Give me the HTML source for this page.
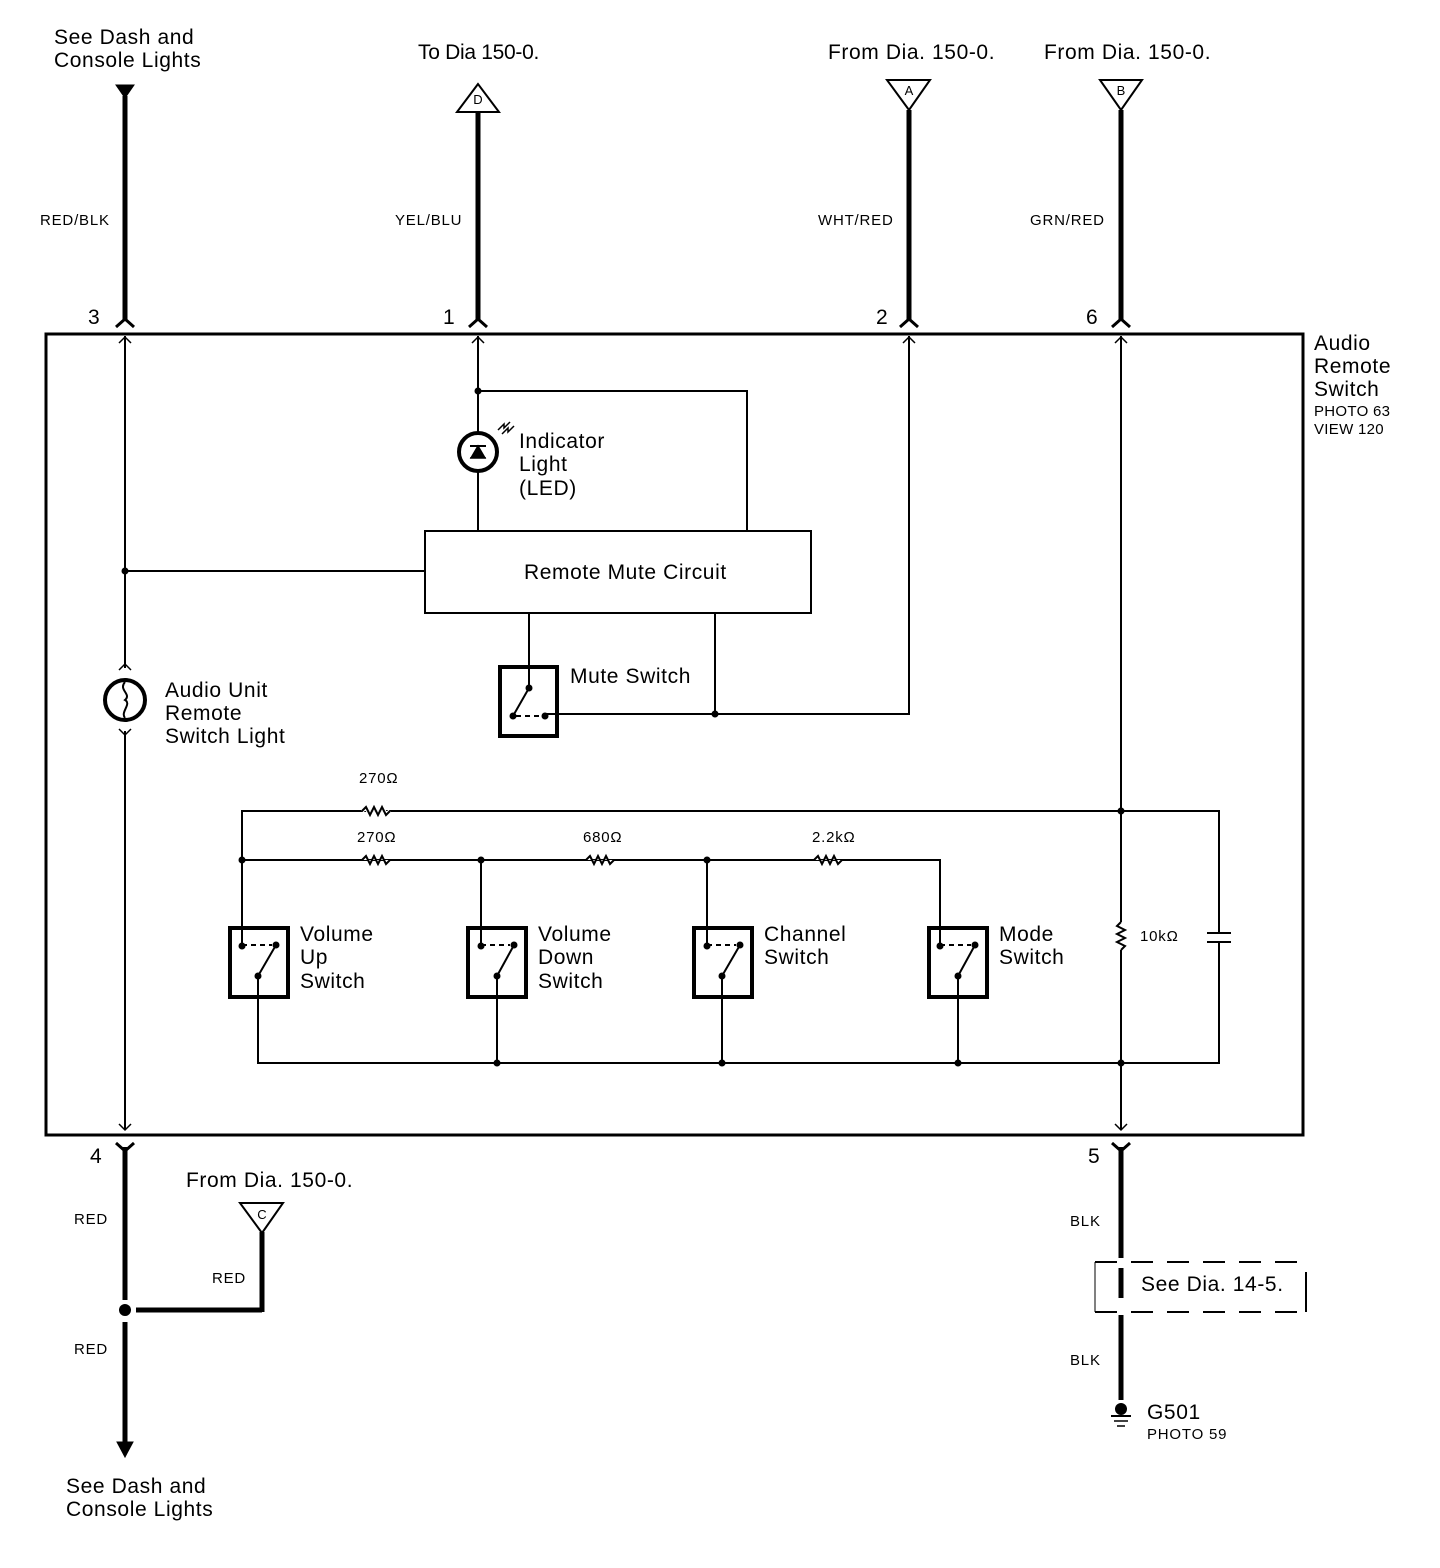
<!DOCTYPE html>
<html><head><meta charset="utf-8"><style>
html,body{margin:0;padding:0;background:#fff}
svg{display:block}
text{font-family:"Liberation Sans",sans-serif;fill:#000}
</style></head><body>
<svg width="1440" height="1568" viewBox="0 0 1440 1568" xmlns="http://www.w3.org/2000/svg">
<g stroke="#000" fill="none">
<rect x="46" y="334" width="1257" height="801" stroke-width="3"/>
<g stroke-width="5">
<line x1="125" y1="96" x2="125" y2="320"/>
<line x1="478" y1="112" x2="478" y2="320"/>
<line x1="909" y1="110" x2="909" y2="320"/>
<line x1="1121" y1="110" x2="1121" y2="320"/>
<line x1="125" y1="1147" x2="125" y2="1300"/>
<line x1="125" y1="1322" x2="125" y2="1445"/>
<line x1="136" y1="1310" x2="262" y2="1310"/>
<line x1="262" y1="1232" x2="262" y2="1312"/>
<line x1="1121" y1="1147" x2="1121" y2="1258"/>
<line x1="1121" y1="1268" x2="1121" y2="1298"/>
<line x1="1121" y1="1315" x2="1121" y2="1400"/>
</g>
<g stroke-width="3">
<path d="M116 327 L125 319 L134 327"/><path d="M469 327 L478 319 L487 327"/>
<path d="M900 327 L909 319 L918 327"/><path d="M1112 327 L1121 319 L1130 327"/>
<path d="M116 1143 L125 1151 L134 1143"/><path d="M1112 1143 L1121 1151 L1130 1143"/>
</g>
<g stroke-width="1.5">
<path d="M119 343 L125 337 L131 343"/><path d="M472 343 L478 337 L484 343"/>
<path d="M903 343 L909 337 L915 343"/><path d="M1115 343 L1121 337 L1127 343"/>
<path d="M119 1124 L125 1130 L131 1124"/><path d="M1115 1124 L1121 1130 L1127 1124"/>
</g>
<g stroke-width="2" fill="#fff">
<path d="M478 84 L457 112 L499 112 Z"/>
<path d="M887 80 L930 80 L909 110 Z"/>
<path d="M1100 80 L1142 80 L1121 110 Z"/>
<path d="M240 1203 L283 1203 L262 1233 Z"/>
</g>
<path d="M116 85 L134 85 L125 98 Z" fill="#000" stroke-width="1"/>
<path d="M117 1442 L133 1442 L125 1457 Z" fill="#000" stroke-width="1"/>
<g stroke-width="2">
<line x1="125" y1="336" x2="125" y2="668"/>
<line x1="125" y1="731" x2="125" y2="1130"/>
<line x1="125" y1="571" x2="425" y2="571"/>
<line x1="478" y1="336" x2="478" y2="432"/>
<line x1="478" y1="472" x2="478" y2="531"/>
<polyline points="478,391 747,391 747,531"/>
<rect x="425" y="531" width="386" height="82"/>
<line x1="529" y1="613" x2="529" y2="688"/>
<line x1="715" y1="613" x2="715" y2="714"/>
<polyline points="545,714 909,714 909,336"/>
<line x1="1121" y1="336" x2="1121" y2="922"/>
<line x1="1121" y1="950" x2="1121" y2="1130"/>
<polyline points="242,946 242,811 1219,811 1219,933"/>
<polyline points="1219,942 1219,1063 258,1063 258,976"/>
<polyline points="242,860 940,860 940,944"/>
<line x1="481" y1="860" x2="481" y2="946"/>
<line x1="707" y1="860" x2="707" y2="946"/>
<line x1="497" y1="976" x2="497" y2="1063"/>
<line x1="722" y1="976" x2="722" y2="1063"/>
<line x1="958" y1="976" x2="958" y2="1063"/>
</g>
<line x1="1207" y1="933" x2="1231" y2="933" stroke-width="2"/>
<line x1="1207" y1="942" x2="1231" y2="942" stroke-width="2"/>
<g stroke-width="2" fill="#fff">
<path d="M362 811 L366 807 L370 815 L374 807 L378 815 L382 807 L386 815 L390 811" stroke="#fff" stroke-width="4"/>
<path d="M362 811 L366 807 L370 815 L374 807 L378 815 L382 807 L386 815 L390 811"/>
<path d="M362 860 L366 856 L370 864 L374 856 L378 864 L382 856 L386 864 L390 860"/>
<path d="M586 860 L590 856 L594 864 L598 856 L602 864 L606 856 L610 864 L614 860"/>
<path d="M814 860 L818 856 L822 864 L826 856 L830 864 L834 856 L838 864 L842 860"/>
<path d="M1121 922 L1117 926 L1125 930 L1117 934 L1125 938 L1117 942 L1125 946 L1121 950"/>
</g>
<g stroke-width="4">
<rect x="500" y="667" width="57" height="69"/>
<rect x="230" y="928" width="58" height="69"/>
<rect x="468" y="928" width="58" height="69"/>
<rect x="694" y="928" width="58" height="69"/>
<rect x="929" y="928" width="58" height="69"/>
</g>
<g stroke-width="2">
<line x1="529" y1="688" x2="513" y2="716"/><path d="M516 716 L540 716" stroke-dasharray="5,4"/>
<line x1="276" y1="945" x2="258" y2="976"/><path d="M242 945 L272 945" stroke-dasharray="5,4"/>
<line x1="514" y1="945" x2="497" y2="976"/><path d="M481 945 L510 945" stroke-dasharray="5,4"/>
<line x1="740" y1="945" x2="722" y2="976"/><path d="M707 945 L736 945" stroke-dasharray="5,4"/>
<line x1="975" y1="945" x2="958" y2="976"/><path d="M940 945 L971 945" stroke-dasharray="5,4"/>
</g>
<circle cx="478" cy="452" r="19" stroke-width="4"/>
<path d="M470 458 L486 458 M478 446 L471 458 L485 458 Z" fill="#000" stroke-width="1.5"/>
<line x1="470" y1="446" x2="486" y2="446" stroke-width="2"/>
<path d="M498 430 L504 424 L504 428 L510 422 M502 434 L508 428 L508 432 L514 426" stroke-width="1.5"/>
<circle cx="125" cy="700" r="20" stroke-width="4"/>
<path d="M119 670 L125 664 L131 670 M119 729 L125 735 L131 729" stroke-width="1.5"/>
<path d="M125 682 C118 690 132 694 125 700 C132 704 120 712 125 718" stroke-width="2"/>
<path d="M1095 1262 L1306 1262" stroke-width="2" stroke-dasharray="22,14"/>
<path d="M1095 1312 L1306 1312" stroke-width="2" stroke-dasharray="22,14"/>
<line x1="1095" y1="1262" x2="1095" y2="1312" stroke-width="1"/>
<line x1="1306" y1="1272" x2="1306" y2="1312" stroke-width="2"/>
<line x1="1111" y1="1416" x2="1131" y2="1416" stroke-width="2"/>
<line x1="1114" y1="1421" x2="1128" y2="1421" stroke-width="1.5"/>
<line x1="1117" y1="1426" x2="1125" y2="1426" stroke-width="1.5"/>
</g>
<g fill="#000">
<circle cx="125" cy="571" r="3.5"/><circle cx="478" cy="391" r="3.5"/><circle cx="715" cy="714" r="3.5"/>
<circle cx="529" cy="688" r="3.5"/><circle cx="513" cy="716" r="3.5"/><circle cx="545" cy="716" r="3.5"/>
<circle cx="1121" cy="811" r="3.5"/><circle cx="1121" cy="1063" r="3.5"/>
<circle cx="242" cy="860" r="3.5"/><circle cx="481" cy="860" r="3.5"/><circle cx="707" cy="860" r="3.5"/>
<circle cx="497" cy="1063" r="3.5"/><circle cx="722" cy="1063" r="3.5"/><circle cx="958" cy="1063" r="3.5"/>
<circle cx="242" cy="946" r="3.5"/><circle cx="276" cy="945" r="3.5"/><circle cx="258" cy="976" r="3.5"/>
<circle cx="481" cy="946" r="3.5"/><circle cx="514" cy="945" r="3.5"/><circle cx="497" cy="976" r="3.5"/>
<circle cx="707" cy="946" r="3.5"/><circle cx="740" cy="945" r="3.5"/><circle cx="722" cy="976" r="3.5"/>
<circle cx="940" cy="946" r="3.5"/><circle cx="975" cy="945" r="3.5"/><circle cx="958" cy="976" r="3.5"/>
<circle cx="125" cy="1310" r="6"/>
<circle cx="1121" cy="1409" r="6"/>
</g>
<g font-size="21" letter-spacing="0.6">
<text x="54" y="44">See Dash and</text><text x="54" y="67">Console Lights</text>
<text x="418" y="59" letter-spacing="-0.3">To Dia 150-0.</text>
<text x="828" y="59">From Dia. 150-0.</text>
<text x="1044" y="59">From Dia. 150-0.</text>
<text x="88" y="324">3</text><text x="443" y="324">1</text><text x="876" y="324">2</text><text x="1086" y="324">6</text>
<text x="90" y="1163">4</text><text x="1088" y="1163">5</text>
<text x="1314" y="350">Audio</text><text x="1314" y="373">Remote</text><text x="1314" y="396">Switch</text>
<text x="519" y="448">Indicator</text><text x="519" y="471">Light</text><text x="519" y="495">(LED)</text>
<text x="524" y="579">Remote Mute Circuit</text>
<text x="570" y="683">Mute Switch</text>
<text x="165" y="697">Audio Unit</text><text x="165" y="720">Remote</text><text x="165" y="743">Switch Light</text>
<text x="300" y="941">Volume</text><text x="300" y="964">Up</text><text x="300" y="988">Switch</text>
<text x="538" y="941">Volume</text><text x="538" y="964">Down</text><text x="538" y="988">Switch</text>
<text x="764" y="941">Channel</text><text x="764" y="964">Switch</text>
<text x="999" y="941">Mode</text><text x="999" y="964">Switch</text>
<text x="186" y="1187">From Dia. 150-0.</text>
<text x="1141" y="1291">See Dia. 14-5.</text>
<text x="1147" y="1419">G501</text>
<text x="66" y="1493">See Dash and</text><text x="66" y="1516">Console Lights</text>
</g>
<g font-size="15" letter-spacing="0.8">
<text x="40" y="225">RED/BLK</text><text x="395" y="225">YEL/BLU</text>
<text x="818" y="225">WHT/RED</text><text x="1030" y="225">GRN/RED</text>
<text x="1314" y="416" letter-spacing="0.3">PHOTO 63</text><text x="1314" y="434" letter-spacing="0.3">VIEW 120</text>
<text x="359" y="783">270Ω</text><text x="357" y="842">270Ω</text><text x="583" y="842">680Ω</text><text x="812" y="842">2.2kΩ</text>
<text x="1140" y="941">10kΩ</text>
<text x="74" y="1224">RED</text><text x="212" y="1283">RED</text><text x="74" y="1354">RED</text>
<text x="1070" y="1226">BLK</text><text x="1070" y="1365">BLK</text>
<text x="1147" y="1439">PHOTO 59</text>
</g>
<g font-size="13" text-anchor="middle">
<text x="478" y="104">D</text><text x="909" y="95">A</text><text x="1121" y="95">B</text><text x="262" y="1219">C</text>
</g>
</svg>
</body></html>
